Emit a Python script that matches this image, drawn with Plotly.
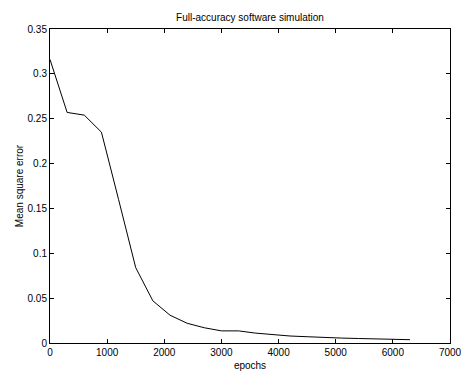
import plotly.graph_objects as go

epochs = [0, 300, 600, 900, 1200, 1500, 1800, 2100, 2400, 2700, 3000, 3300,
          3600, 3900, 4200, 4500, 4800, 5100, 5400, 5700, 6000, 6300]
mse = [0.316, 0.257, 0.254, 0.235, 0.160, 0.084, 0.047, 0.031, 0.022, 0.017,
       0.0135, 0.0135, 0.011, 0.009, 0.0078, 0.007, 0.006, 0.0055, 0.005,
       0.0046, 0.0041, 0.0037]
x_ticks = [0, 1000, 2000, 3000, 4000, 5000, 6000, 7000]
y_ticks = [0, 0.05, 0.1, 0.15, 0.2, 0.25, 0.3, 0.35]

fig = go.Figure()
fig.add_trace(go.Scatter(x=epochs, y=mse, mode="lines",
                         line=dict(color="black", width=1), showlegend=False))

font = dict(family="Liberation Sans, Arial, sans-serif", size=10, color="black")
axis_common = dict(showgrid=False, zeroline=False, showline=True, linecolor="black",
                   linewidth=1, mirror="ticks", ticks="inside", ticklen=4,
                   tickcolor="black", tickwidth=1, tickfont=font, automargin=False)

fig.update_layout(
    width=464, height=371,
    margin=dict(l=50, r=14, t=29, b=28, autoexpand=False),
    paper_bgcolor="white", plot_bgcolor="white",
    font=font,
    title=dict(text="Full-accuracy software simulation", x=0.5 * (50 + 450) / 464,
               xanchor="center", y=1 - 17 / 371, yanchor="middle", font=font,
               automargin=False),
    xaxis=dict(range=[0, 7000], tickvals=x_ticks, ticktext=[str(v) for v in x_ticks],
               title=dict(text="epochs", font=font, standoff=5), **axis_common),
    yaxis=dict(range=[0, 0.35], tickvals=y_ticks,
               ticktext=["0", "0.05", "0.1", "0.15", "0.2", "0.25", "0.3", "0.35"],
               title=dict(text="Mean square error", font=font, standoff=2), **axis_common),
)

fig.write_html("out.html", config={"displayModeBar": False},
               post_script="document.body.style.margin='0';document.body.style.overflow='hidden';")
